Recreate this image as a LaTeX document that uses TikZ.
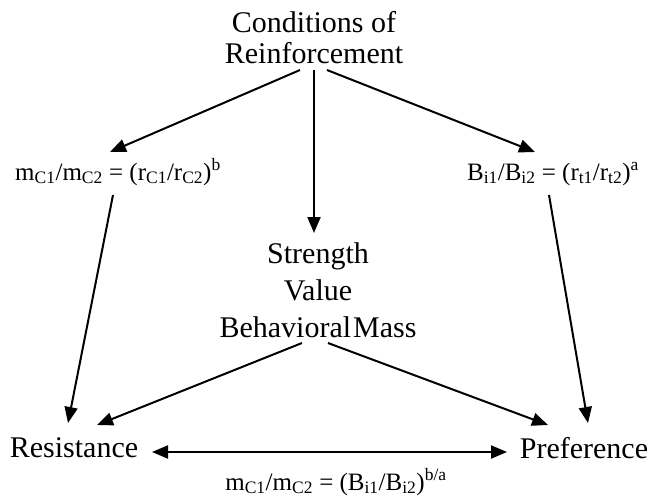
\documentclass[tikz,border=0pt]{standalone}
\usepackage{fontspec}
\setmainfont{Liberation Serif}
\usetikzlibrary{arrows.meta,calc}
\tikzset{
  term/.style={align=center,inner sep=0pt,font=\fontsize{30}{31}\selectfont},
  eqn/.style={inner sep=0pt,anchor=base,font=\fontsize{25}{30}\selectfont},
  flow/.style={-{Triangle[length=16pt,width=13pt]},line width=2pt},
  flowb/.style={{Triangle[length=16pt,width=13pt]}-{Triangle[length=16pt,width=13pt]},line width=2pt},
}

\begin{document}
\begin{tikzpicture}[x=1pt,y=-1pt]
  \useasboundingbox (0,0) rectangle (651,499);

  % ---------------- termeni ----------------
  \node[term] (cond) at (314,38) {Conditions of\\Reinforcement};
  \node[term,font=\fontsize{30}{37}\selectfont] (mid) at (318,290)
    {Strength\\Value\\Behavioral\hspace{2pt}Mass};
  \node[term,anchor=base] (res) at (74,457) {Resistance};
  \node[term,anchor=base] (pref) at (584,458) {Preference};

  % ---------------- ecuatii ----------------
  \node[eqn] (eqL) at (118,180)
    {m\textsubscript{C1}/m\textsubscript{C2} = (r\textsubscript{C1}/r\textsubscript{C2})\textsuperscript{b}};
  \node[eqn] (eqR) at (553,180)
    {B\textsubscript{i1}/B\textsubscript{i2} = (r\textsubscript{t1}/r\textsubscript{t2})\textsuperscript{a}};
  \node[eqn] (eqB) at (336,490)
    {m\textsubscript{C1}/m\textsubscript{C2} = (B\textsubscript{i1}/B\textsubscript{i2})\textsuperscript{b/a}};

  % ---------------- sageti ----------------
  \draw[flow] ([shift={(-14,32)}]cond.center) -- ([shift={(-8,-28)}]eqL.base);
  \draw[flow] ([shift={(0,32)}]cond.center) -- ([shift={(-4,-57)}]mid.center);
  \draw[flow] ([shift={(13,32)}]cond.center) -- ([shift={(-18,-28)}]eqR.base);

  \draw[flow] ([shift={(-5,15)}]eqL.base) -- ([shift={(-6,-34)}]res.base);
  \draw[flow] ([shift={(-4,15)}]eqR.base) -- ([shift={(4,-35)}]pref.base);

  \draw[flow] ([shift={(-16,53)}]mid.center) -- ([shift={(23,-32)}]res.base);
  \draw[flow] ([shift={(10,53)}]mid.center) -- ([shift={(-36,-33)}]pref.base);

  \draw[flowb] ([shift={(78,-5)}]res.base) -- ([shift={(-77,-6)}]pref.base);
\end{tikzpicture}
\end{document}
